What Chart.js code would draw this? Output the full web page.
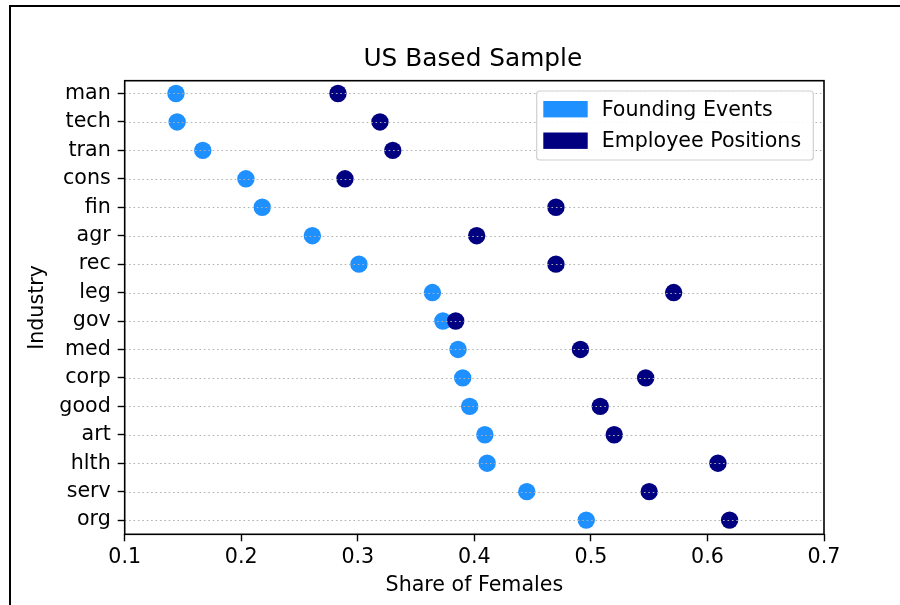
<!DOCTYPE html>
<html>
<head>
<meta charset="utf-8">
<title>US Based Sample</title>
<script src="https://cdn.jsdelivr.net/npm/chart.js@4.4.3/dist/chart.umd.min.js"></script>
<style>
  html, body { margin: 0; padding: 0; background: #fff; }
  #wrap { position: relative; width: 900px; height: 605px; overflow: hidden; }
  #frame { position: absolute; left: 9px; top: 5px; width: 1000px; height: 1000px;
           border-top: 2px solid #000; border-left: 2px solid #000; pointer-events: none; }
  canvas { position: absolute; left: 0; top: 0; }
</style>
</head>
<body>
<div id="wrap">
  <canvas id="chart" width="900" height="605"></canvas>
  <div id="frame"></div>
</div>
<script>
// industries, top to bottom
const industries = ["man", "tech", "tran", "cons", "fin", "agr", "rec", "leg",
                    "gov", "med", "corp", "good", "art", "hlth", "serv", "org"];
// share of females
const foundingShare = [0.144, 0.145, 0.167, 0.204, 0.218, 0.261, 0.301, 0.364,
                       0.373, 0.386, 0.390, 0.396, 0.409, 0.411, 0.445, 0.496];
const employeeShare = [0.283, 0.319, 0.330, 0.289, 0.470, 0.402, 0.470, 0.571,
                       0.384, 0.491, 0.547, 0.508, 0.520, 0.609, 0.550, 0.619];
const xTicks = [0.1, 0.2, 0.3, 0.4, 0.5, 0.6, 0.7];
const chartTitle = "US Based Sample";

const FONT = "'DejaVu Sans', 'Liberation Sans', sans-serif";
const FOUND_COLOR = "#1e90ff";
const EMP_COLOR = "#000080";

function toPoints(values) {
  return values.map((v, i) => ({ x: v, y: i }));
}

// title centred over the plot, grid on top of the markers, frame, legend box
const overlayPlugin = {
  id: "overlay",
  afterDatasetsDraw(chart) {
    const { ctx, chartArea: a, scales } = chart;
    const ys = scales.y;
    ctx.save();

    ctx.fillStyle = "#000";
    ctx.font = "24.8px " + FONT;
    ctx.textAlign = "center";
    ctx.textBaseline = "middle";
    ctx.fillText(chartTitle, (a.left + a.right) / 2 - 1.5, a.top - 21.5);

    ctx.strokeStyle = "#b0b0b0";
    ctx.lineWidth = 1.2;
    ctx.setLineDash([1.6, 2.8]);
    ys.ticks.forEach((t) => {
      const y = Math.round(ys.getPixelForValue(t.value)) + 0.5;
      ctx.beginPath();
      ctx.moveTo(a.left, y);
      ctx.lineTo(a.right, y);
      ctx.stroke();
    });
    ctx.setLineDash([]);
    ctx.strokeStyle = "#000";
    ctx.lineWidth = 1.6;
    ctx.strokeRect(a.left, a.top, a.right - a.left, a.bottom - a.top);

    // legend
    const bw = 276.6, bh = 69;
    const bx = a.right - 10.7 - bw, by = a.top + 10.3;
    ctx.beginPath();
    ctx.roundRect(bx, by, bw, bh, 3);
    ctx.fillStyle = "rgba(255,255,255,0.9)";
    ctx.fill();
    ctx.strokeStyle = "#d0d0d0";
    ctx.lineWidth = 1.2;
    ctx.stroke();
    ctx.font = "20.6px " + FONT;
    ctx.textBaseline = "middle";
    ctx.textAlign = "left";
    chart.data.datasets.forEach((ds, i) => {
      const cy = by + 18.2 + i * 31.5;
      ctx.fillStyle = ds.backgroundColor;
      ctx.fillRect(bx + 6.6, cy - 8.2, 44.4, 16.4);
      ctx.fillStyle = "#000";
      ctx.fillText(ds.label, bx + 65, cy + 1);
    });
    ctx.restore();
  },
};

new Chart(document.getElementById("chart"), {
  type: "scatter",
  data: {
    datasets: [
      {
        label: "Founding Events",
        data: toPoints(foundingShare),
        backgroundColor: FOUND_COLOR,
        borderWidth: 0,
        pointRadius: 8.7,
        pointHoverRadius: 8.7,
        order: 1,
      },
      {
        label: "Employee Positions",
        data: toPoints(employeeShare),
        backgroundColor: EMP_COLOR,
        borderWidth: 0,
        pointRadius: 8.7,
        pointHoverRadius: 8.7,
        order: 0,
      },
    ],
  },
  options: {
    responsive: false,
    animation: false,
    layout: { padding: { left: 0, right: 76, top: 80.7, bottom: 0 } },
    plugins: {
      legend: { display: false },
      tooltip: { enabled: false },
      title: { display: false },
    },
    scales: {
      x: {
        type: "linear",
        position: "bottom",
        min: 0.1,
        max: 0.7,
        afterBuildTicks: (s) => { s.ticks = xTicks.map((v) => ({ value: v })); },
        afterFit: (s) => { s.height = 70.7; },
        ticks: {
          color: "#000",
          padding: 3.5,
          font: { family: FONT, size: 20.6 },
          callback: (v) => v.toFixed(1),
        },
        grid: { drawOnChartArea: false, drawTicks: true, tickLength: 7, tickColor: "#000", tickWidth: 1.4 },
        border: { display: false },
        title: {
          display: true,
          text: "Share of Females",
          color: "#000",
          font: { family: FONT, size: 20.6 },
          padding: { top: 3.7, bottom: 6.8 },
        },
      },
      y: {
        type: "linear",
        reverse: true,
        min: -0.45,
        max: 15.5,
        afterBuildTicks: (s) => { s.ticks = industries.map((_, i) => ({ value: i })); },
        afterFit: (s) => { s.width = 124.7; },
        ticks: {
          color: "#000",
          padding: 7,
          autoSkip: false,
          font: { family: FONT, size: 20.6 },
          callback: (v) => industries[v],
        },
        grid: { drawOnChartArea: false, drawTicks: true, tickLength: 7, tickColor: "#000", tickWidth: 1.4 },
        border: { display: false },
        title: {
          display: true,
          text: "Industry",
          color: "#000",
          font: { family: FONT, size: 20.6 },
          padding: { top: 25.5, bottom: 0 },
        },
      },
    },
  },
  plugins: [overlayPlugin],
});
</script>
</body>
</html>
